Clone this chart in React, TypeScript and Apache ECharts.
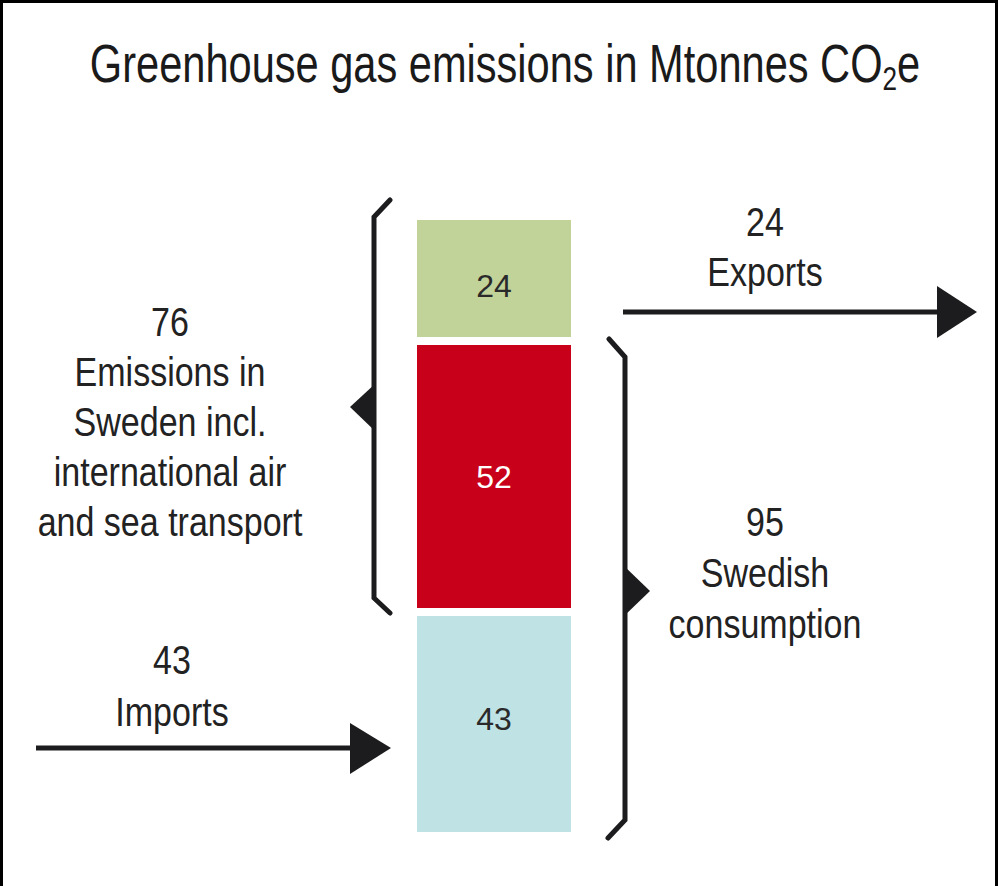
import React, { useEffect, useRef } from "react";
import * as echarts from "echarts";

// ---- data ----
const categories = ["Sweden"];
const segmentNames = ["Imports", "Domestic use of Swedish emissions", "Exports"];
const segmentValues = [43, 52, 24];
const segmentColors = ["#bfe2e4", "#c8001a", "#c2d39a"];
const segmentLabelColors = ["#2a2a2a", "#ffffff", "#2a2a2a"];

const titleMain = "Greenhouse gas emissions in Mtonnes CO";
const titleSub = "2";
const titleEnd = "e";

const exportsLines = ["24", "Exports"];
const swedenLines = ["76", "Emissions in", "Sweden incl.", "international air", "and sea transport"];
const consumptionLines = ["95", "Swedish", "consumption"];
const importsLines = ["43", "Imports"];

const FONT = "'Liberation Sans', Arial, sans-serif";
const INK = "#1c1c1e";
const CONDENSE = 0.83;
const labelOffsets = [-5, 0, 7];

function textLines(lines: string[], cx: number, firstY: number, step: number, size: number) {
  return lines.map((t, i) => ({
    type: "text",
    x: cx,
    y: firstY + i * step,
    scaleX: CONDENSE,
    silent: true,
    style: {
      text: t,
      fill: "#222",
      font: `${size}px ${FONT}`,
      textAlign: "center",
      textVerticalAlign: "middle",
    },
  }));
}

export default function App() {
  const ref = useRef<HTMLDivElement>(null);

  useEffect(() => {
    document.body.style.margin = "0";
    if (!ref.current) return;
    const chart = echarts.init(ref.current, undefined, { renderer: "svg" });

    const series = segmentValues.map((v, i) => ({
      name: segmentNames[i],
      type: "bar",
      stack: "total",
      barWidth: 162,
      data: [v],
      itemStyle: { color: segmentColors[i], borderColor: "#ffffff", borderWidth: 4 },
      label: {
        show: true,
        position: "inside",
        offset: [0, labelOffsets[i]],
        formatter: "{c}",
        color: segmentLabelColors[i],
        fontSize: 32,
        fontFamily: FONT,
      },
    }));

    const lineStyle = { stroke: INK, lineWidth: 5, lineJoin: "miter", lineCap: "round" };

    const graphic: any[] = [
      // frame
      {
        type: "rect",
        silent: true,
        shape: { x: 1.5, y: 1.5, width: 995, height: 900 },
        style: { fill: "none", stroke: "#000", lineWidth: 3 },
      },
      // title
      {
        type: "text",
        x: 505,
        y: 63,
        scaleX: 0.77,
        silent: true,
        style: {
          text: `{a|${titleMain}}{s|${titleSub}}{a|${titleEnd}}`,
          textAlign: "center",
          textVerticalAlign: "middle",
          rich: {
            a: { fontSize: 54, fontFamily: FONT, fill: "#1a1a1a", lineHeight: 64, verticalAlign: "middle" },
            s: { fontSize: 34, fontFamily: FONT, fill: "#1a1a1a", lineHeight: 30, verticalAlign: "bottom" },
          },
        },
      },
      // left brace
      {
        type: "polyline",
        silent: true,
        shape: { points: [[390, 200], [374, 217], [374, 598], [390, 613]] },
        style: lineStyle,
      },
      {
        type: "polygon",
        silent: true,
        shape: { points: [[376, 383], [350, 407], [376, 432]] },
        style: { fill: INK },
      },
      // right brace
      {
        type: "polyline",
        silent: true,
        shape: { points: [[609, 339], [625, 357], [625, 820], [608, 838]] },
        style: lineStyle,
      },
      {
        type: "polygon",
        silent: true,
        shape: { points: [[623, 565], [650, 591], [623, 617]] },
        style: { fill: INK },
      },
      // exports arrow
      {
        type: "line",
        silent: true,
        shape: { x1: 623, y1: 312, x2: 940, y2: 312 },
        style: { stroke: INK, lineWidth: 5, lineCap: "butt" },
      },
      {
        type: "polygon",
        silent: true,
        shape: { points: [[937, 286], [977, 312], [937, 338]] },
        style: { fill: INK },
      },
      // imports arrow
      {
        type: "line",
        silent: true,
        shape: { x1: 36, y1: 748, x2: 353, y2: 748 },
        style: { stroke: INK, lineWidth: 5, lineCap: "butt" },
      },
      {
        type: "polygon",
        silent: true,
        shape: { points: [[350, 723], [391, 748], [350, 774]] },
        style: { fill: INK },
      },
      ...textLines(exportsLines, 765, 222, 50, 41),
      ...textLines(swedenLines, 170, 322, 50, 41),
      ...textLines(consumptionLines, 765, 522, 51, 41),
      ...textLines(importsLines, 172, 660, 52, 41),
    ];

    chart.setOption({
      animation: false,
      backgroundColor: "#ffffff",
      grid: { left: 394, width: 200, top: 216, bottom: 50 },
      xAxis: { type: "category", data: categories, show: false },
      yAxis: { type: "value", min: 0, max: 119, show: false },
      series,
      graphic,
    });

    return () => chart.dispose();
  }, []);

  return <div ref={ref} style={{ width: 998, height: 886 }} />;
}
